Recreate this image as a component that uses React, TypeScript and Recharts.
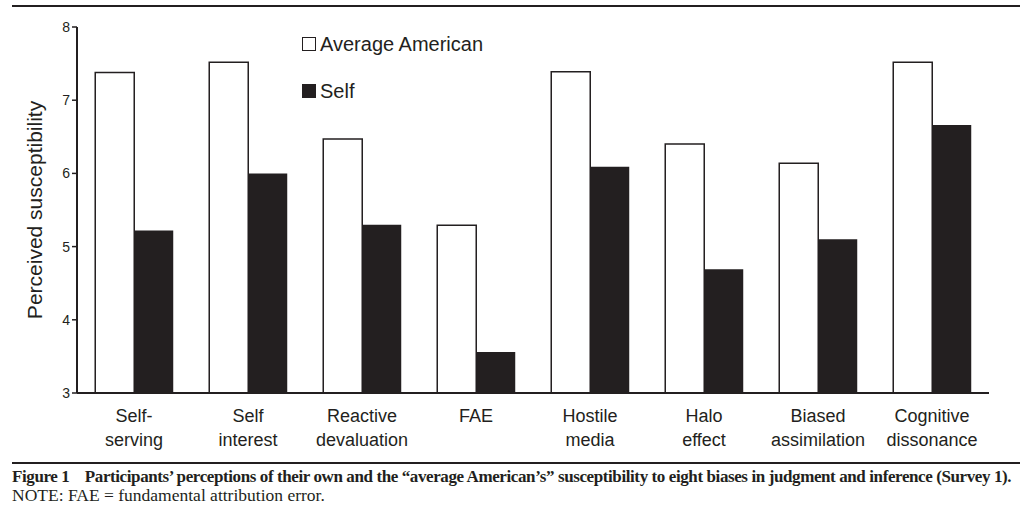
import { BarChart, Bar, XAxis, YAxis } from 'recharts'

const biases = ['Self-serving', 'Self interest', 'Reactive devaluation', 'FAE', 'Hostile media', 'Halo effect', 'Biased assimilation', 'Cognitive dissonance']
const biasLines = [
  ['Self-', 'serving'],
  ['Self', 'interest'],
  ['Reactive', 'devaluation'],
  ['FAE'],
  ['Hostile', 'media'],
  ['Halo', 'effect'],
  ['Biased', 'assimilation'],
  ['Cognitive', 'dissonance'],
]
const averageAmerican = [7.38, 7.52, 6.47, 5.29, 7.39, 6.4, 6.14, 7.52]
const self = [5.22, 6.0, 5.3, 3.56, 6.09, 4.69, 5.1, 6.66]
const yTicks = [3, 4, 5, 6, 7, 8]

const data = biases.map((b, i) => ({ bias: b, avg: averageAmerican[i], self: self[i] }))

const INK = '#231f20'
const SANS = '"Liberation Sans", Arial, Helvetica, sans-serif'
const SERIF = '"Liberation Serif", "Times New Roman", serif'

function BiasTick(props: any) {
  const { x, y, index } = props
  const lines = biasLines[index] || []
  return (
    <g transform={`translate(${x},${y})`}>
      {lines.map((l, i) => (
        <text key={i} x={0} y={21 + i * 24} textAnchor="middle" fontSize={18} fill={INK} fontFamily={SANS}>
          {l}
        </text>
      ))}
    </g>
  )
}

function LegendBox() {
  const items = [
    { label: 'Average American', fill: '#fff' },
    { label: 'Self', fill: INK },
  ]
  return (
    <div style={{ fontFamily: SANS, color: INK }}>
      {items.map((it, i) => (
        <div key={i} style={{ display: 'flex', alignItems: 'center', height: 24, marginBottom: i === 0 ? 23 : 0 }}>
          <span style={{ display: 'inline-block', width: 12, height: 12, border: `1.5px solid ${INK}`, background: it.fill, marginRight: 4 }} />
          <span style={{ fontSize: 20 }}>{it.label}</span>
        </div>
      ))}
    </div>
  )
}

export default function App() {
  return (
    <div style={{ position: 'absolute', left: 0, top: 0, width: 1024, height: 523, background: '#fff', overflow: 'hidden' }}>
      <div style={{ position: 'absolute', left: 12, top: 5, width: 1008, height: 2, background: INK }} />
      <BarChart
        width={1024}
        height={523}
        data={data}
        margin={{ top: 27, right: 35, bottom: 70, left: 0 }}
        barGap={0}
        barCategoryGap="16%"
      >
        <XAxis
          dataKey="bias"
          height={60}
          interval={0}
          tickLine={false}
          axisLine={{ stroke: INK, strokeWidth: 2 }}
          tick={<BiasTick />}
        />
        <YAxis
          width={77}
          domain={[3, 8]}
          ticks={yTicks}
          allowDataOverflow
          tickSize={5}
          tickLine={{ stroke: INK, strokeWidth: 1.5 }}
          axisLine={{ stroke: INK, strokeWidth: 2 }}
          tick={{ fontSize: 14, fill: INK, fontFamily: SANS }}
          label={{
            value: 'Perceived susceptibility',
            angle: -90,
            position: 'insideLeft',
            offset: 0,
            dx: 35,
            style: { fontSize: 21, fill: INK, fontFamily: SANS, textAnchor: 'middle' },
          }}
        />
        <Bar dataKey="avg" name="Average American" fill="#fff" stroke={INK} strokeWidth={1.5} isAnimationActive={false} />
        <Bar dataKey="self" name="Self" fill={INK} isAnimationActive={false} />
      </BarChart>
      <div style={{ position: 'absolute', left: 302, top: 32, width: 260 }}>
        <LegendBox />
      </div>
      <div style={{ position: 'absolute', left: 12, top: 462, width: 1008, height: 2, background: INK }} />
      <div style={{ position: 'absolute', left: 12, top: 467, fontFamily: SERIF, fontWeight: 'bold', fontSize: 17, color: INK, whiteSpace: 'nowrap', letterSpacing: -0.4 }}>
        Figure 1&nbsp;&nbsp;&nbsp;&nbsp;Participants’ perceptions of their own and the “average American’s” susceptibility to eight biases in judgment and inference (Survey 1).
      </div>
      <div style={{ position: 'absolute', left: 12, top: 485, fontFamily: SERIF, fontSize: 17.5, color: INK, whiteSpace: 'nowrap' }}>
        NOTE: FAE = fundamental attribution error.
      </div>
    </div>
  )
}
